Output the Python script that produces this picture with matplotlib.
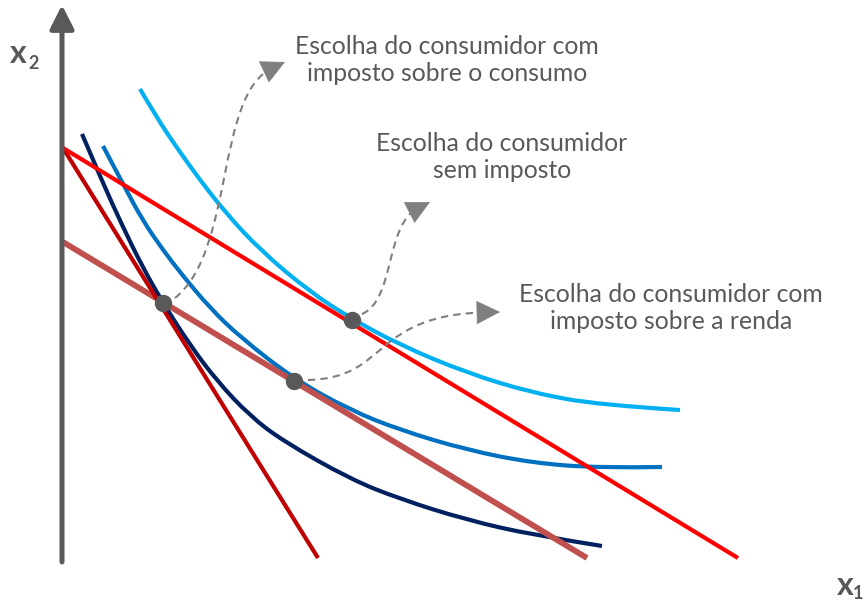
import matplotlib.pyplot as plt
from matplotlib.path import Path
from matplotlib.patches import FancyArrowPatch, PathPatch

# Budget lines: (x1 intercept, x2 intercept)
budget_none = (675, 410)        # sem imposto
budget_consumo = (255, 410)     # imposto sobre o consumo
budget_renda = (524, 316)       # imposto sobre a renda

# Indifference curves
ic_high_x1 = [77, 94, 114, 137, 162, 197, 247, 289, 337, 404, 470, 537, 617]
ic_high_x2 = [469, 440, 410, 378, 346, 308, 266, 239, 213, 185, 165, 153, 148]

ic_mid_x1 = [40, 60, 80, 100, 120, 147, 177, 231, 287, 337, 404, 470, 537, 599]
ic_mid_x2 = [412, 374, 337, 308, 282, 250, 221, 179, 148, 128, 108, 95, 90, 91]

ic_low_x1 = [19, 39, 59, 79, 100, 127, 154, 187, 220, 287, 337, 404, 470, 539]
ic_low_x2 = [424, 377, 333, 292, 255, 213, 177, 142, 117, 79, 59, 38, 23, 12]

# Chosen bundles: consumo, sem imposto, renda
choice_x1 = [100, 289, 231]
choice_x2 = [255, 238, 177]

labels = ["Escolha do consumidor com\nimposto sobre o consumo",
          "Escolha do consumidor\nsem imposto",
          "Escolha do consumidor com\nimposto sobre a renda"]

GRAY = "#595959"
plt.rcParams['font.family'] = ['Lato', 'DejaVu Sans']


def smooth_curve(xs, ys):
    # quadratic B-spline style path: read points act as control points
    pts = list(zip(xs, ys))
    verts = [pts[0]]
    codes = [Path.MOVETO]
    for i in range(1, len(pts) - 1):
        mid = ((pts[i][0] + pts[i + 1][0]) / 2, (pts[i][1] + pts[i + 1][1]) / 2)
        if i == len(pts) - 2:
            mid = pts[-1]
        verts += [pts[i], mid]
        codes += [Path.CURVE3, Path.CURVE3]
    return Path(verts, codes)


fig = plt.figure(figsize=(8.66, 6.04), dpi=100)
ax = fig.add_axes([0, 0, 1, 1])
ax.set_xlim(-63, 803)
ax.set_ylim(-46, 558)
ax.axis('off')

# indifference curves
for xs, ys, c in [(ic_high_x1, ic_high_x2, "#00B0F0"),
                  (ic_mid_x1, ic_mid_x2, "#0070C0"),
                  (ic_low_x1, ic_low_x2, "#002060")]:
    ax.add_patch(PathPatch(smooth_curve(xs, ys), fill=False, edgecolor=c, lw=3,
                           capstyle='butt', joinstyle='round'))

# budget lines
ax.plot([0, budget_renda[0]], [budget_renda[1], 0], color="#C0504D", lw=4.2, solid_capstyle='butt')
ax.plot([0, budget_consumo[0]], [budget_consumo[1], 0], color="#C00000", lw=3, solid_capstyle='butt')
ax.plot([0, budget_none[0]], [budget_none[1], 0], color="#FF0000", lw=3, solid_capstyle='butt')

# choice points
ax.plot(choice_x1, choice_x2, 'o', color=GRAY, ms=11.5, zorder=5)

# axes with arrows
axis_style = dict(arrowstyle='-|>,head_length=0.65,head_width=0.33', color=GRAY, lw=3.6,
                  shrinkA=0, shrinkB=0, mutation_scale=22)
ax.annotate("", xy=(-1, 553), xytext=(-1, -4), arrowprops=axis_style, zorder=6)
ax.annotate("", xy=(806, -2), xytext=(-3, -2), arrowprops=axis_style, zorder=6)

ax.text(-45, 495, "x", fontsize=23, fontweight='bold', color=GRAY, ha='center', va='baseline')
ax.text(-29, 503, "2", fontsize=13, fontweight='bold', color=GRAY, ha='center', va='top')
ax.text(782, -37, "x", fontsize=23, fontweight='bold', color=GRAY, ha='center', va='baseline')
ax.text(795, -27, "1", fontsize=13, fontweight='bold', color=GRAY, ha='center', va='top')

# curved dashed arrows from each point to its label
starts = [(12, 5), (10, 6), (14, 1)]
ctrl = [((72, 53), (52, 208)), ((43, 20), (33, 95)), ((96, 3), (76, 66))]
tips = [(222, 496), (367, 356), (437, 246)]
text_pos = [(384, 498), (439, 401), (608, 250)]

for i in range(3):
    px, py = choice_x1[i], choice_x2[i]
    p0 = (px + starts[i][0], py + starts[i][1])
    p1 = (px + ctrl[i][0][0], py + ctrl[i][0][1])
    p2 = (px + ctrl[i][1][0], py + ctrl[i][1][1])
    tx, ty = tips[i]
    # stop the dashes at the base of the head
    dx, dy = tx - p2[0], ty - p2[1]
    n = (dx ** 2 + dy ** 2) ** 0.5
    base = (tx - 14 * dx / n, ty - 14 * dy / n)
    path = Path([p0, p1, p2, base], [Path.MOVETO, Path.CURVE4, Path.CURVE4, Path.CURVE4])
    ax.add_patch(PathPatch(path, fill=False, edgecolor="#7F7F7F", lw=1.5,
                           linestyle=(0, (3.5, 2.5)), zorder=4))
    ax.add_patch(FancyArrowPatch(base, (tx, ty), arrowstyle='-|>,head_length=0.8,head_width=0.4',
                                 mutation_scale=20, color="#7F7F7F", lw=0.5,
                                 shrinkA=0, shrinkB=0, zorder=4))
    ax.text(text_pos[i][0], text_pos[i][1], labels[i], fontsize=17.8, color=GRAY,
            ha='center', va='center', linespacing=1.2)

fig.savefig("out.png", dpi=100)
